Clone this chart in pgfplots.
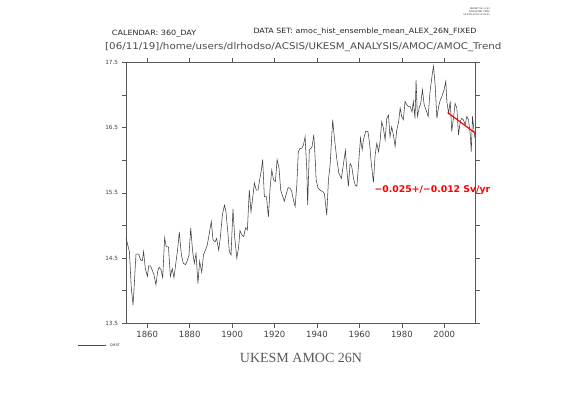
\documentclass[border=0pt]{standalone}
\usepackage{pgfplots}
\pgfplotsset{compat=1.18}
\usepackage{graphicx}
\usepackage{fontspec}
\setmainfont{DejaVu Sans}
\newfontfamily\serifttl{Liberation Serif}
\definecolor{axgray}{gray}{0.35}
\definecolor{linegray}{gray}{0.25}
\begin{document}
\begin{tikzpicture}
\path[use as bounding box, fill=white] (0pt,0pt) rectangle (561pt,397pt);
% header texts
\node[anchor=east, align=right, inner sep=0pt, font=\fontsize{2.3}{3.1}\selectfont, text=black!80] at (490pt,385pt) {FERRET Ver. 6.93\\NOAA/PMEL TMAP\\06-NOV-2019 13:38:25};
\node[anchor=west, inner sep=0pt, font=\fontsize{7.2}{8}\selectfont, text=black!85] at (111.7pt,363.7pt) {\scalebox{1.12}[1]{CALENDAR: 360\_DAY}};
\node[anchor=west, inner sep=0pt, font=\fontsize{7.2}{8}\selectfont, text=black!85] at (253.3pt,365pt) {\scalebox{1.1}[1]{DATA SET: amoc\_hist\_ensemble\_mean\_ALEX\_26N\_FIXED}};
\node[anchor=west, inner sep=0pt, font=\fontsize{9.2}{10}\selectfont, text=black!70] at (105pt,350pt) {\scalebox{1.12}[1]{[06/11/19]/home/users/dlrhodso/ACSIS/UKESM\_ANALYSIS/AMOC/AMOC\_Trend}};
\node[font=\serifttl\fontsize{14}{15}\selectfont, text=black!65] at (301pt,39pt) {UKESM AMOC 26N};
% legend key
\draw[red, line width=1.3pt] (78pt,51.3pt) -- (106pt,51.3pt);
\node[anchor=west, inner sep=0pt, font=\fontsize{3.5}{4}\selectfont, text=black!80] at (110pt,51.3pt) {QHAT};
\begin{axis}[
  at={(126pt,73.7pt)}, anchor=south west,
  scale only axis, width=349.7pt, height=261pt,
  xmin=1850, xmax=2014.8, ymin=13.5, ymax=17.5,
  xtick={1860,1880,...,2000},
  ytick={13.5,14.5,15.5,16.5,17.5},
  minor ytick={14,15,16,17},
  tick align=outside,
  major tick length=4.5pt, minor tick length=4.5pt,
  axis line style={axgray, line width=0.6pt},
  every tick/.style={axgray, line width=0.6pt},
  every minor tick/.style={axgray, line width=0.6pt},
  /pgf/number format/assume math mode=true,
  xticklabel style={font=\fontsize{8.5}{9}\selectfont, text=black!75, /pgf/number format/1000 sep={}},
  yticklabel style={font=\fontsize{5.7}{6}\selectfont, text=black!75, /pgf/number format/fixed, /pgf/number format/precision=1, /pgf/number format/fixed zerofill},
  clip=false,
]
\addplot[linegray, line width=0.55pt] coordinates {
(1850.0,14.81) (1851.6,14.60) (1852.5,14.04) (1853.3,13.78) (1853.9,14.09)
(1854.7,14.56) (1856.0,14.56) (1856.9,14.47) (1857.7,14.46) (1858.3,14.60)
(1859.1,14.34) (1860.1,14.22) (1860.7,14.38) (1861.5,14.38) (1862.3,14.32)
(1863.2,14.24) (1864.1,14.09) (1864.9,14.29) (1865.6,14.36) (1866.5,14.32)
(1867.3,14.20) (1868.2,14.81) (1869.0,14.67) (1870.0,14.67) (1870.9,14.22)
(1871.8,14.34) (1872.6,14.20) (1873.6,14.45) (1874.4,14.65) (1875.1,14.90)
(1876.1,14.55) (1877.0,14.42) (1878.0,14.40) (1878.8,14.45) (1879.7,14.55)
(1880.5,14.96) (1881.4,14.60) (1882.2,14.42) (1883.0,14.57) (1883.9,14.11)
(1884.7,14.45) (1885.7,14.28) (1886.5,14.55) (1887.4,14.62) (1888.3,14.70)
(1889.1,14.85) (1890.2,15.06) (1891.0,14.78) (1892.0,14.75) (1892.7,14.80)
(1893.7,14.62) (1894.5,14.83) (1895.4,15.16) (1896.4,15.31) (1897.1,15.21)
(1898.1,14.85) (1898.7,14.60) (1899.5,14.55) (1900.4,15.25) (1901.2,14.83)
(1902.2,14.50) (1903.0,14.65) (1903.7,14.92) (1904.7,14.85) (1905.5,14.83)
(1906.3,14.96) (1907.2,14.93) (1908.1,15.54) (1908.9,15.21) (1909.7,15.42)
(1910.5,15.65) (1911.4,15.54) (1912.2,15.54) (1913.0,15.70) (1913.8,15.85)
(1914.4,16.01) (1915.2,15.44) (1916.2,15.44) (1917.1,15.13) (1917.9,15.57)
(1918.7,15.85) (1919.5,15.70) (1920.4,15.67) (1921.2,16.01) (1922.1,15.88)
(1922.9,15.54) (1923.9,15.44) (1924.6,15.37) (1925.6,15.49) (1926.4,15.58)
(1927.3,15.57) (1928.1,15.52) (1928.9,15.39) (1929.7,15.29) (1930.5,15.62)
(1931.2,16.13) (1932.0,16.18) (1932.8,16.18) (1933.6,16.23) (1934.4,16.36)
(1935.2,15.85) (1935.6,15.31) (1936.4,16.16) (1937.1,16.18) (1937.7,16.21)
(1938.5,16.39) (1939.3,15.93) (1939.6,15.70) (1940.5,15.57) (1941.5,15.54)
(1942.6,15.52) (1943.5,15.49) (1944.6,15.16) (1945.4,15.70) (1946.2,15.93)
(1947.4,16.62) (1948.2,16.34) (1949.3,16.03) (1950.3,15.80) (1951.5,15.72)
(1952.5,15.95) (1953.4,16.15) (1954.0,15.88) (1954.8,15.60) (1955.6,15.95)
(1956.4,15.90) (1957.2,15.72) (1958.0,15.62) (1958.8,15.60) (1959.7,15.98)
(1960.5,16.34) (1961.3,16.16) (1961.9,16.31) (1962.9,16.44) (1964.0,16.44)
(1964.8,16.26) (1965.5,15.98) (1966.6,15.66) (1967.4,16.08) (1968.2,16.26)
(1969.0,16.13) (1969.7,16.28) (1970.5,16.59) (1971.3,16.49) (1972.1,16.31)
(1972.9,16.64) (1973.7,16.69) (1974.4,16.36) (1975.2,16.51) (1976.0,16.39)
(1976.8,16.21) (1977.6,16.46) (1978.5,16.59) (1979.2,16.80) (1979.9,16.67)
(1980.7,16.62) (1981.5,16.90) (1982.3,16.85) (1983.2,16.82) (1983.9,16.82)
(1984.8,16.74) (1985.4,16.90) (1986.2,16.64) (1986.7,17.23) (1987.3,16.67)
(1988.3,16.82) (1988.9,16.87) (1989.7,17.08) (1990.5,16.85) (1991.4,16.77)
(1992.4,16.67) (1993.3,17.06) (1994.3,17.31) (1994.9,17.44) (1995.7,17.15)
(1996.5,16.64) (1997.3,16.82) (1998.1,16.92) (1998.8,16.97) (1999.9,17.08)
(2000.7,17.21) (2001.2,16.90) (2002.0,16.72) (2002.8,16.90) (2003.5,16.44)
(2004.3,16.64) (2005.1,16.87) (2005.9,16.80) (2006.7,16.39) (2007.5,16.59)
(2008.2,16.64) (2009.0,16.62) (2009.8,16.54) (2010.6,16.67) (2011.4,16.62)
(2012.2,16.41) (2012.7,16.13) (2013.3,16.67) (2013.8,16.51) (2014.4,16.34)
};
\addplot[red, line width=1.2pt] coordinates {(2001.6,16.73) (2014.8,16.41)};
\node[text=red, font=\bfseries\fontsize{9.3}{10}\selectfont] at (axis cs:1994.4,15.54) {−0.025+/−0.012 Sv/yr};
\end{axis}
\end{tikzpicture}
\end{document}
